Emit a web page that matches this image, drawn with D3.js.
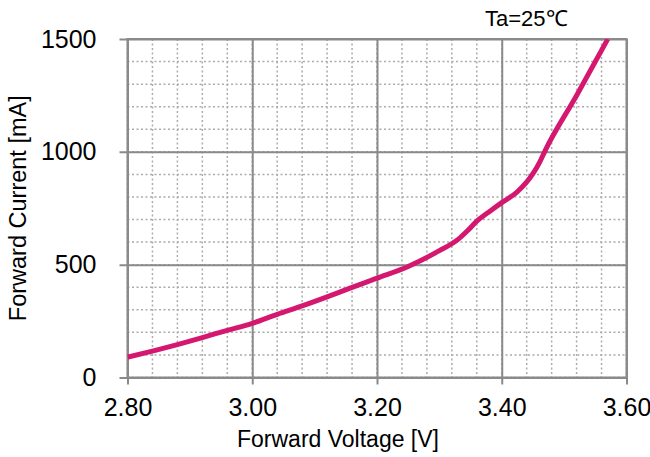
<!DOCTYPE html>
<html>
<head>
<meta charset="utf-8">
<script src="https://cdn.jsdelivr.net/npm/d3@7"></script>
<style>
  body { margin: 0; background: #fff; }
  svg { display: block; font-family: 'Liberation Sans', Arial, sans-serif; }
</style>
</head>
<body>
<svg id="chart" width="650" height="457"></svg>
<script>
// forward voltage [V] vs forward current [mA]
const voltage = [2.80, 2.84, 2.88, 2.92, 2.96, 3.00, 3.04, 3.08, 3.12, 3.16, 3.20, 3.25, 3.30, 3.33, 3.345, 3.36, 3.38, 3.40, 3.425, 3.45, 3.46, 3.47, 3.52, 3.57]
const current = [90, 117, 146, 177, 209, 240, 280, 317, 357, 399, 440, 492, 562, 612, 650, 693, 735, 775, 823, 903, 950, 1008, 1250, 1500]

const xTicks = [2.80, 3.00, 3.20, 3.40, 3.60]
const yTicks = [0, 500, 1000, 1500]
const xMinorTicks = d3.range(0, 21).map(i => 2.80 + i * 0.04)
const yMinorTicks = d3.range(0, 16).map(i => i * 100)

const margin = { left: 127.5, right: 23.5, top: 39, bottom: 80 }
const width = 650
const height = 457

const svg = d3.select('#chart')

const x = d3.scaleLinear().domain([2.80, 3.60]).range([margin.left, width - margin.right])
const y = d3.scaleLinear().domain([0, 1500]).range([height - margin.bottom + 0.5, margin.top])

const AXIS_COLOR = '#8a8a8a'
const MINOR_COLOR = '#ababab'

// dotted minor grid
const grid = svg.append('g').attr('class', 'grid')
grid.selectAll('line.vminor')
  .data(xMinorTicks)
  .enter()
  .append('line')
  .attr('x1', d => x(d)).attr('x2', d => x(d))
  .attr('y1', y(1500)).attr('y2', y(0))
  .attr('stroke', MINOR_COLOR)
  .attr('stroke-width', 1.5)
  .attr('stroke-dasharray', '2,2.5')

grid.selectAll('line.hminor')
  .data(yMinorTicks)
  .enter()
  .append('line')
  .attr('y1', d => y(d)).attr('y2', d => y(d))
  .attr('x1', x(2.80)).attr('x2', x(3.60))
  .attr('stroke', MINOR_COLOR)
  .attr('stroke-width', 1.5)
  .attr('stroke-dasharray', '2,2.5')

// solid major grid
const xAxis = d3.axisBottom(x)
  .tickValues(xTicks)
  .tickFormat(d3.format('.2f'))
  .tickPadding(14)

svg.append('g')
  .attr('transform', `translate(0,${y(0)})`)
  .call(xAxis)
  .call(g => g.select('.domain').remove())
  .call(g => g.selectAll('.tick line').attr('stroke', AXIS_COLOR).attr('stroke-width', 2).attr('y2', 7).attr('y1', -(y(0) - y(1500))))
  .call(g => g.selectAll('.tick text').attr('fill', '#000').attr('font-size', 25).attr('font-family', null).attr('y', 21))

const yAxis = d3.axisLeft(y)
  .tickValues(yTicks)
  .tickFormat(d3.format('d'))

svg.append('g')
  .attr('transform', `translate(${x(2.80)},0)`)
  .call(yAxis)
  .call(g => g.select('.domain').remove())
  .call(g => g.selectAll('.tick line').attr('stroke', AXIS_COLOR).attr('stroke-width', 2).attr('x1', -8).attr('x2', x(3.60) - x(2.80)))
  .call(g => g.selectAll('.tick text').attr('fill', '#000').attr('font-size', 25).attr('font-family', null).attr('x', -31))

// plot frame
svg.append('rect')
  .attr('x', x(2.80)).attr('y', y(1500))
  .attr('width', x(3.60) - x(2.80)).attr('height', y(0) - y(1500))
  .attr('fill', 'none')
  .attr('stroke', AXIS_COLOR)
  .attr('stroke-width', 2)

// curve
svg.append('clipPath').attr('id', 'plot-clip')
  .append('rect')
  .attr('x', x(2.80)).attr('y', y(1500))
  .attr('width', x(3.60) - x(2.80)).attr('height', y(0) - y(1500))

const points = voltage.map((v, i) => ({ v, i: current[i] }))

const line = d3.line()
  .x(d => x(d.v))
  .y(d => y(d.i))
  .curve(d3.curveMonotoneX)

svg.append('path')
  .datum(points)
  .attr('clip-path', 'url(#plot-clip)')
  .attr('d', line)
  .attr('fill', 'none')
  .attr('stroke', '#d5186f')
  .attr('stroke-width', 5)
  .attr('stroke-linejoin', 'round')

// labels
svg.append('text')
  .attr('x', 338).attr('y', 447)
  .attr('text-anchor', 'middle')
  .attr('font-size', 23)
  .text('Forward Voltage [V]')

svg.append('text')
  .attr('transform', `translate(26,${(y(0) + y(1500)) / 2}) rotate(-90)`)
  .attr('text-anchor', 'middle')
  .attr('font-size', 23.5)
  .text('Forward Current [mA]')

svg.append('text')
  .attr('x', 485).attr('y', 26)
  .attr('font-size', 22)
  .text('Ta=25℃')
</script>
</body>
</html>
